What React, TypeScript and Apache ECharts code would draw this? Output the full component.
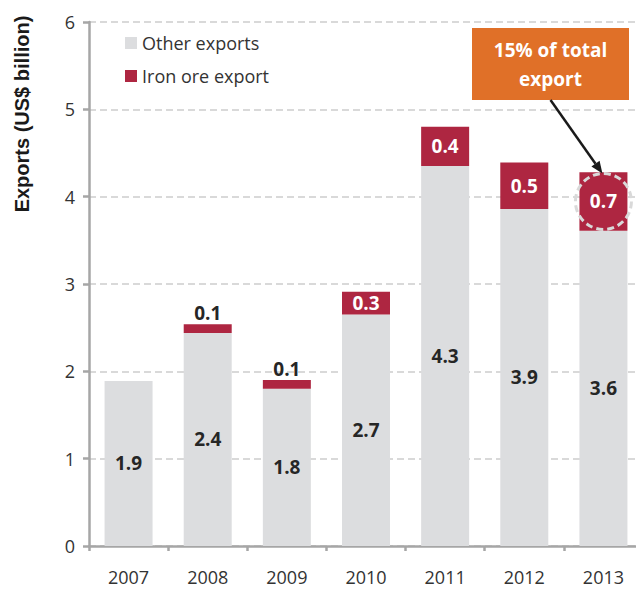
import React, { useEffect, useRef } from "react";
import * as echarts from "echarts";

const years = ["2007", "2008", "2009", "2010", "2011", "2012", "2013"];
const otherExports = [1.89, 2.44, 1.8, 2.65, 4.35, 3.86, 3.61];
const ironOreExports = [0, 0.1, 0.1, 0.26, 0.45, 0.53, 0.67];
const otherLabels = ["1.9", "2.4", "1.8", "2.7", "4.3", "3.9", "3.6"];
const ironLabels = ["", "0.1", "0.1", "0.3", "0.4", "0.5", "0.7"];
const yTicks = [0, 1, 2, 3, 4, 5, 6];
const seriesNames = ["Other exports", "Iron ore export"];
const yAxisTitle = "Exports (US$ billion)";
const calloutText = "15% of total\nexport";
const highlightYear = "2013";

const GRAY = "#dcdddf";
const RED = "#ae2641";
const ORANGE = "#e07028";
const FONT = "'Open Sans', sans-serif";

export default function App() {
  const ref = useRef<HTMLDivElement>(null);
  useEffect(() => {
    if (!ref.current) return;
    const chart = echarts.init(ref.current, null, { renderer: "svg" });
    const option: any = {
      animation: false,
      textStyle: { fontFamily: FONT },
      grid: { left: 89, right: 1, top: 22, bottom: 46 },
      legend: {
        data: seriesNames,
        orient: "vertical",
        left: 125,
        top: 33,
        padding: 0,
        icon: "rect",
        itemWidth: 12,
        itemHeight: 12,
        itemGap: 13,
        textStyle: { fontSize: 18, color: "#333333", fontFamily: FONT, lineHeight: 20 },
      },
      xAxis: {
        type: "category",
        data: years,
        axisLine: { lineStyle: { color: "#a6a6a6", width: 2.5 } },
        axisTick: { show: true, length: 5, lineStyle: { color: "#a6a6a6", width: 2.5 } },
        axisLabel: { color: "#333", fontSize: 18, margin: 22, fontFamily: FONT },
      },
      yAxis: {
        type: "value",
        min: yTicks[0],
        max: yTicks[yTicks.length - 1],
        interval: 1,
        axisLine: { show: true, lineStyle: { color: "#a6a6a6", width: 2.5 } },
        axisTick: { show: true, length: 6, lineStyle: { color: "#a6a6a6", width: 2.5 } },
        axisLabel: { color: "#333", fontSize: 18, margin: 14, fontFamily: FONT },
        splitLine: { show: true, lineStyle: { color: "#d9d9d9", width: 2, type: [7, 4] } },
      },
      series: [
        {
          name: seriesNames[0],
          type: "bar",
          stack: "total",
          barWidth: 48,
          itemStyle: { color: GRAY },
          data: otherExports,
          label: {
            show: true,
            position: "inside",
            fontSize: 19,
            fontWeight: "bold",
            color: "#262626",
            fontFamily: FONT,
            formatter: (p: any) => otherLabels[p.dataIndex],
          },
        },
        {
          name: seriesNames[1],
          type: "bar",
          stack: "total",
          barWidth: 48,
          itemStyle: { color: RED },
          data: ironOreExports.map((v) =>
            v < 0.2
              ? { value: v, label: { position: "top", distance: 2, color: "#262626" } }
              : { value: v }
          ),
          label: {
            show: true,
            position: "inside",
            fontSize: 19,
            fontWeight: "bold",
            color: "#ffffff",
            fontFamily: FONT,
            formatter: (p: any) => ironLabels[p.dataIndex],
          },
        },
      ],
    };
    chart.setOption(option);

    const hi = years.indexOf(highlightYear);
    const center = chart.convertToPixel({ gridIndex: 0 }, [
      hi,
      otherExports[hi] + ironOreExports[hi] / 2,
    ]) as number[];
    const cx = center[0];
    const cy = center[1];
    const r = 28;
    const boxX = 472, boxY = 28, boxW = 157, boxH = 72;
    const sx = boxX + boxW / 2;
    const sy = boxY + boxH;
    const ex = cx - 1;
    const ey = cy - r;
    const ang = Math.atan2(ey - sy, ex - sx);
    const ah = 12, aw = 5;
    const bx = ex - ah * Math.cos(ang);
    const by = ey - ah * Math.sin(ang);
    const px = -Math.sin(ang) * aw;
    const py = Math.cos(ang) * aw;

    chart.setOption({
      graphic: [
        {
          type: "text",
          x: 22,
          y: 114,
          z: 100,
          rotation: Math.PI / 2,
          style: {
            text: yAxisTitle,
            fontSize: 20,
            fontWeight: "bold",
            fontFamily: "'Liberation Sans', Arial, sans-serif",
            fill: "#1a1a1a",
            align: "center",
            verticalAlign: "middle",
          },
        },
        {
          type: "rect",
          z: 100,
          shape: { x: boxX, y: boxY, width: boxW, height: boxH },
          style: { fill: ORANGE },
        },
        {
          type: "text",
          z: 101,
          x: sx,
          y: boxY + boxH / 2,
          style: {
            text: calloutText,
            fontSize: 19,
            fontWeight: "bold",
            fontFamily: FONT,
            fill: "#ffffff",
            align: "center",
            verticalAlign: "middle",
            lineHeight: 29,
          },
        },
        {
          type: "line",
          z: 100,
          shape: { x1: sx, y1: sy, x2: bx, y2: by },
          style: { stroke: "#1a1a1a", lineWidth: 2.5 },
        },
        {
          type: "polygon",
          z: 100,
          shape: {
            points: [
              [ex, ey],
              [bx + px, by + py],
              [bx - px, by - py],
            ],
          },
          style: { fill: "#1a1a1a" },
        },
        {
          type: "circle",
          z: 100,
          shape: { cx: cx, cy: cy, r: r },
          style: { fill: "none", stroke: "#d9d9d9", lineWidth: 3, lineDash: [7, 4] },
        },
      ],
    });
    return () => chart.dispose();
  }, []);
  return <div ref={ref} style={{ width: 644, height: 592, marginLeft: -8, marginTop: -8 }} />;
}
